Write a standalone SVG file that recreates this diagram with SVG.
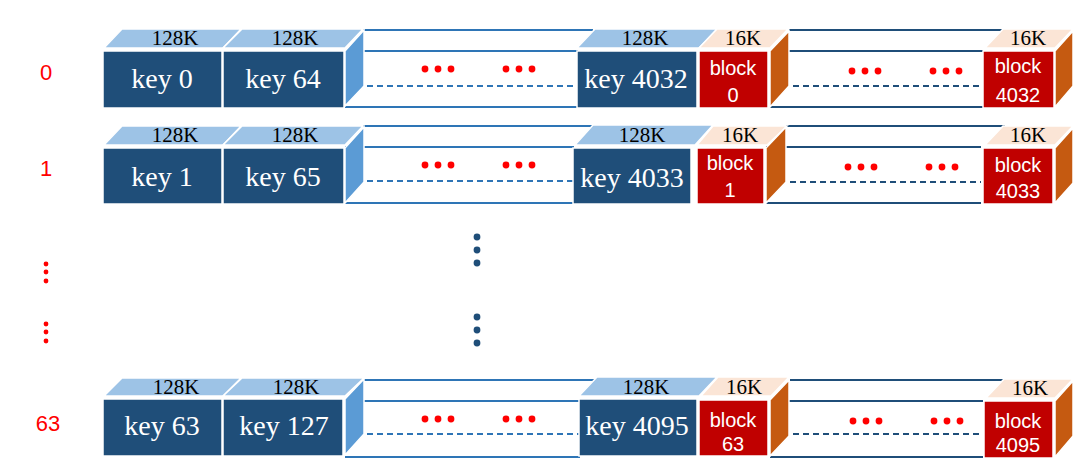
<svg xmlns="http://www.w3.org/2000/svg" width="1081" height="476" viewBox="0 0 1081 476">
<style>
.kf{fill:#1F4E79;stroke:#fff;stroke-width:1.5}
.kt{fill:#9DC3E6;stroke:#fff;stroke-width:1.5}
.ks{fill:#5B9BD5;stroke:#fff;stroke-width:1.5}
.bf{fill:#C00000;stroke:#fff;stroke-width:1.5}
.bt{fill:#FBE5D6;stroke:#fff;stroke-width:1.5}
.bs{fill:#C55A11;stroke:#fff;stroke-width:1.5}
.w1{stroke:#2E75B6;stroke-width:2;fill:none}
.w2{stroke:#1F4E79;stroke-width:2;fill:none}
.d{stroke-dasharray:6 4}
.key{font-family:"Liberation Serif",serif;font-size:28px;fill:#fff;text-anchor:middle}
.sz{font-family:"Liberation Serif",serif;font-size:21px;fill:#000;text-anchor:middle}
.blk{font-family:"Liberation Sans",sans-serif;font-size:20px;fill:#fff;text-anchor:middle}
.lbl{font-family:"Liberation Sans",sans-serif;font-size:22px;fill:#FF0000;text-anchor:middle}
.rd{fill:#FF0000}
.bd{fill:#1F4E79}
</style>
<defs>
<g id="dots6"><circle cx="0" cy="0" r="3.4" class="rd"/><circle cx="13" cy="0" r="3.4" class="rd"/><circle cx="26" cy="0" r="3.4" class="rd"/><circle cx="81" cy="0" r="3.4" class="rd"/><circle cx="94" cy="0" r="3.4" class="rd"/><circle cx="107" cy="0" r="3.4" class="rd"/></g>
</defs>

<!-- Row labels -->
<g id="labels">
<text class="lbl" x="46" y="80">0</text>
<text class="lbl" x="46" y="176">1</text>
<circle cx="46" cy="264" r="2.4" class="rd"/><circle cx="46" cy="272" r="2.4" class="rd"/><circle cx="46" cy="281" r="2.4" class="rd"/>
<circle cx="46" cy="324" r="2.4" class="rd"/><circle cx="46" cy="332" r="2.4" class="rd"/><circle cx="46" cy="341" r="2.4" class="rd"/>
<text class="lbl" x="48" y="431">63</text>
</g>

<g id="vdots">
<circle cx="477" cy="237" r="3.4" class="bd"/><circle cx="477" cy="250" r="3.4" class="bd"/><circle cx="477" cy="263" r="3.4" class="bd"/>
<circle cx="477" cy="317" r="3.4" class="bd"/><circle cx="477" cy="330" r="3.4" class="bd"/><circle cx="477" cy="343" r="3.4" class="bd"/>
</g>

<!-- ROW 0 -->
<g id="connectors-row0">
<line class="w1" x1="363" y1="30" x2="593" y2="30"/>
<line class="w1" x1="345" y1="51" x2="578" y2="51"/>
<line class="w1 d" x1="367" y1="86" x2="578" y2="86"/>
<line class="w1" x1="345" y1="107" x2="578" y2="107"/>
<line class="w2" x1="789" y1="30" x2="1002" y2="30"/>
<line class="w2" x1="770" y1="51" x2="983" y2="51"/>
<line class="w2 d" x1="793" y1="86" x2="983" y2="86"/>
<line class="w2" x1="770" y1="107" x2="983" y2="107"/>
<use href="#dots6" x="425" y="69"/>
<use href="#dots6" x="852" y="71"/>
</g>
<g id="key0">
<polygon class="kt" points="104,48 122,29 241,29 223,48"/>
<rect class="kf" x="103" y="51" width="119" height="57"/>
<text class="sz" x="175" y="45">128K</text>
<text class="key" x="162" y="88">key 0</text>
</g>
<g id="key64">
<polygon class="kt" points="223,48 242,29 363,29 345,48"/>
<rect class="kf" x="223" y="51" width="121" height="57"/>
<polygon class="ks" points="345,51 364,30 364,86 345,106"/>
<text class="sz" x="295" y="45">128K</text>
<text class="key" x="283" y="88">key 64</text>
</g>
<g id="key4032">
<polygon class="kt" points="577,48 595,29 717,29 699,48"/>
<rect class="kf" x="577" y="51" width="120" height="57"/>
<text class="sz" x="645" y="45">128K</text>
<text class="key" x="636" y="88">key 4032</text>
</g>
<g id="block0">
<polygon class="bt" points="699,48 717,29 788,29 770,48"/>
<rect class="bf" x="699" y="51" width="69" height="57"/>
<polygon class="bs" points="770,51 789,31 789,86 770,107"/>
<text class="sz" x="743" y="45">16K</text>
<text class="blk" x="733" y="75">block</text>
<text class="blk" x="733" y="102">0</text>
</g>
<g id="block4032">
<polygon class="bt" points="985,48 1003,29 1073,29 1055,48"/>
<rect class="bf" x="983" y="51" width="71" height="57"/>
<polygon class="bs" points="1055,51 1073,31 1073,86 1055,107"/>
<text class="sz" x="1028" y="45">16K</text>
<text class="blk" x="1018" y="73">block</text>
<text class="blk" x="1018" y="102">4032</text>
</g>

<!-- ROW 1 -->
<g id="connectors-row1">
<line class="w1" x1="363" y1="126" x2="594" y2="126"/>
<line class="w1" x1="345" y1="147" x2="574" y2="147"/>
<line class="w1 d" x1="367" y1="181" x2="574" y2="181"/>
<line class="w1" x1="345" y1="203" x2="574" y2="203"/>
<line class="w2" x1="786" y1="126" x2="1005" y2="126"/>
<line class="w2" x1="766" y1="147" x2="981" y2="147"/>
<line class="w2 d" x1="790" y1="182" x2="981" y2="182"/>
<line class="w2" x1="766" y1="203" x2="981" y2="203"/>
<use href="#dots6" x="425" y="165"/>
<use href="#dots6" x="848" y="167"/>
</g>
<g id="key1">
<polygon class="kt" points="104,145 122,126 241,126 223,145"/>
<rect class="kf" x="103" y="148" width="119" height="56"/>
<text class="sz" x="175" y="142">128K</text>
<text class="key" x="162" y="186">key 1</text>
</g>
<g id="key65">
<polygon class="kt" points="223,145 242,126 363,126 345,145"/>
<rect class="kf" x="223" y="148" width="121" height="56"/>
<polygon class="ks" points="345,148 364,127 364,182 345,203"/>
<text class="sz" x="295" y="142">128K</text>
<text class="key" x="283" y="186">key 65</text>
</g>
<g id="key4033">
<polygon class="kt" points="575,145 593,125 713,125 695,145"/>
<rect class="kf" x="573" y="148" width="118" height="56"/>
<text class="sz" x="642" y="142">128K</text>
<text class="key" x="632" y="187">key 4033</text>
</g>
<g id="block1">
<polygon class="bt" points="697,145 713,126 787,126 767,145"/>
<rect class="bf" x="697" y="148" width="67" height="56"/>
<polygon class="bs" points="766,148 786,127 786,182 766,203"/>
<text class="sz" x="740" y="142">16K</text>
<text class="blk" x="730" y="170">block</text>
<text class="blk" x="730" y="197">1</text>
</g>
<g id="block4033">
<polygon class="bt" points="985,145 1003,126 1073,126 1055,145"/>
<rect class="bf" x="983" y="148" width="70" height="56"/>
<polygon class="bs" points="1055,148 1073,128 1073,183 1055,203"/>
<text class="sz" x="1028" y="142">16K</text>
<text class="blk" x="1018" y="172">block</text>
<text class="blk" x="1018" y="198">4033</text>
</g>

<!-- ROW 63 -->
<g id="connectors-row63">
<line class="w1" x1="364" y1="380" x2="596" y2="380"/>
<line class="w1" x1="345" y1="401" x2="580" y2="401"/>
<line class="w1 d" x1="367" y1="434" x2="580" y2="434"/>
<line class="w1" x1="345" y1="457" x2="580" y2="457"/>
<line class="w2" x1="790" y1="380" x2="1003" y2="380"/>
<line class="w2" x1="770" y1="401" x2="983" y2="401"/>
<line class="w2 d" x1="793" y1="434" x2="983" y2="434"/>
<line class="w2" x1="770" y1="457" x2="983" y2="457"/>
<use href="#dots6" x="425" y="419"/>
<use href="#dots6" x="853" y="421"/>
</g>
<g id="key63">
<polygon class="kt" points="104,396 122,378 241,378 223,396"/>
<rect class="kf" x="103" y="399" width="119" height="57"/>
<text class="sz" x="176" y="394">128K</text>
<text class="key" x="162" y="435">key 63</text>
</g>
<g id="key127">
<polygon class="kt" points="223,396 242,378 364,378 345,396"/>
<rect class="kf" x="223" y="399" width="120" height="57"/>
<polygon class="ks" points="345,399 364,379 364,434 345,455"/>
<text class="sz" x="296" y="394">128K</text>
<text class="key" x="284" y="435">key 127</text>
</g>
<g id="key4095">
<polygon class="kt" points="579,396 597,377 717,377 699,396"/>
<rect class="kf" x="579" y="399" width="118" height="57"/>
<text class="sz" x="646" y="394">128K</text>
<text class="key" x="637" y="435">key 4095</text>
</g>
<g id="block63">
<polygon class="bt" points="701,396 718,377 789,377 771,396"/>
<rect class="bf" x="699" y="400" width="69" height="56"/>
<polygon class="bs" points="770,400 789,380 789,436 770,456"/>
<text class="sz" x="744" y="394">16K</text>
<text class="blk" x="733" y="427">block</text>
<text class="blk" x="733" y="451">63</text>
</g>
<g id="block4095">
<polygon class="bt" points="986,398 1004,379 1073,379 1055,398"/>
<rect class="bf" x="984" y="401" width="69" height="57"/>
<polygon class="bs" points="1055,401 1073,381 1073,436 1055,457"/>
<text class="sz" x="1030" y="395">16K</text>
<text class="blk" x="1018" y="428">block</text>
<text class="blk" x="1018" y="452">4095</text>
</g>
</svg>
